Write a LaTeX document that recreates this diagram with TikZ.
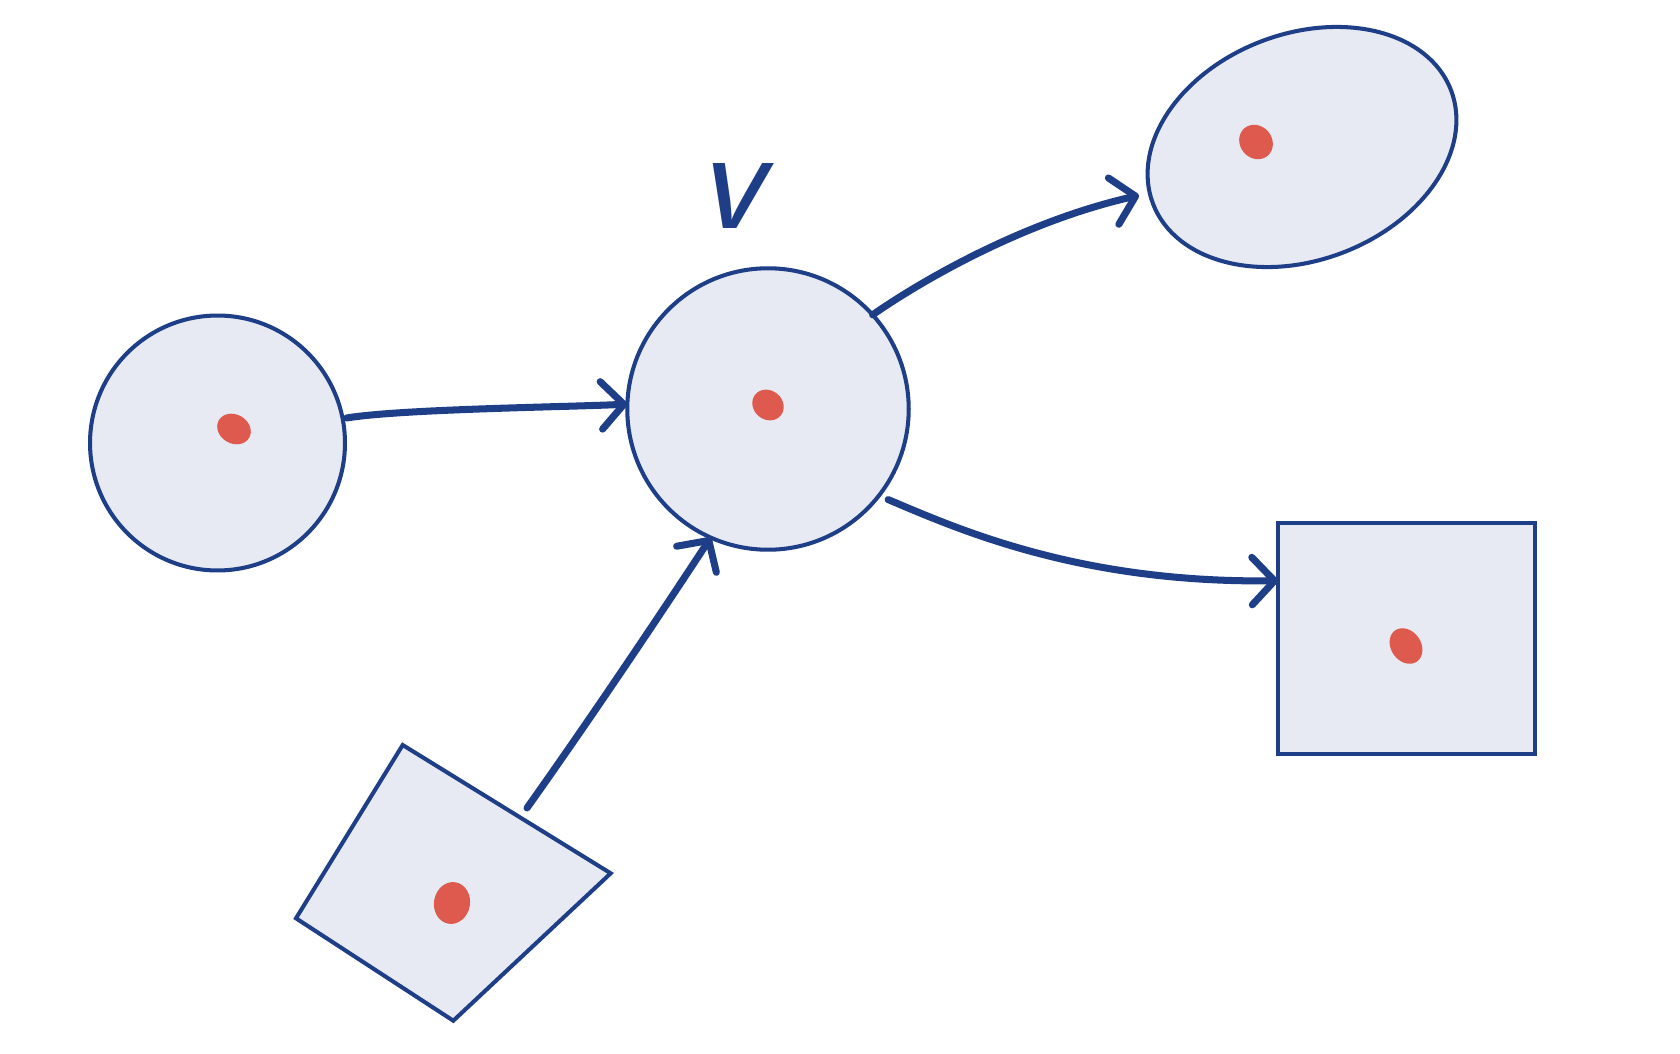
\documentclass[tikz,border=0pt]{standalone}
\usetikzlibrary{shapes.geometric,arrows.meta,calc}
\definecolor{ink}{RGB}{30,62,135}
\definecolor{paper}{RGB}{231,234,242}
\definecolor{dotred}{RGB}{222,90,78}
\begin{document}
\begin{tikzpicture}[x=0.02cm,y=-0.02cm,
  shapebox/.style={draw=ink, fill=paper, line width=2.3pt, inner sep=0pt, outer sep=0pt},
  conn/.style={draw=ink, line width=4pt, line cap=round,
    -{Straight Barb[round,length=0.45cm,width=0.95cm]}},
  reddot/.style={fill=dotred}]
\fill[white] (0,0) rectangle (1680,1054);
\useasboundingbox (0,0) rectangle (1680,1054);

% shapes
\node[shapebox, circle, minimum size=5.1cm] (L) at (217.5,443) {};
\node[shapebox, circle, minimum size=5.63cm] (C) at (768,409) {};
\node[shapebox, ellipse, minimum width=6.38cm, minimum height=4.53cm, rotate=20.8] (E) at (1302,147) {};
\node[shapebox, rectangle, minimum width=5.14cm, minimum height=4.62cm] (S) at (1406.5,638.5) {};
\draw[shapebox, line join=miter] (402.7,745) -- (610.7,873.3) -- (453.3,1020.7) -- (296,918.3) -- cycle;
\coordinate (Q) at (527,808);

% red dots
\fill[reddot, rotate around={-30:(234,429)}] (234,429) ellipse [x radius=0.35cm, y radius=0.29cm];
\fill[reddot, rotate around={-40:(768,405)}] (768,405) ellipse [x radius=0.33cm, y radius=0.29cm];
\fill[reddot, rotate around={-50:(1256,142)}] (1256,142) ellipse [x radius=0.36cm, y radius=0.32cm];
\fill[reddot, rotate around={-55:(1406,646)}] (1406,646) ellipse [x radius=0.38cm, y radius=0.3cm];
\fill[reddot, rotate around={80:(452,903)}] (452,903) ellipse [x radius=0.42cm, y radius=0.36cm];

% label
\node[text=ink, inner sep=0pt, font=\sffamily\itshape\fontsize{86}{86}\selectfont] (vlabel) at (730,196) {v};

% connectors
\draw[conn, shorten <=0.08cm] (L.11) .. controls (400,409) and (570,407) .. (C.178);
\draw[conn] (Q) .. controls (588,722) and (650,630) .. (C.246);
\draw[conn, shorten >=0.22cm] (C.42) .. controls (930,275) and (1030,220) .. (E.176);
\draw[conn, shorten <=0.2cm] (C.-38) .. controls (960,530) and (1080,583) .. ($(S.north west)!0.25!(S.south west)$);
\end{tikzpicture}
\end{document}
